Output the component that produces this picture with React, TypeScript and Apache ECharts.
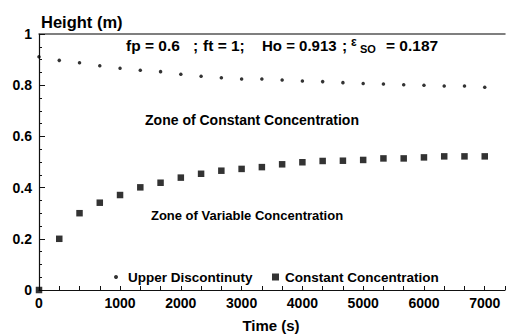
import React, { useEffect, useRef } from "react";
import * as echarts from "echarts";

// Sample times (s) — plotted as evenly spaced categories, as in the original figure
const times = [
  "0", "250", "500", "750", "1000", "1333", "1667", "2000", "2333", "2667", "3000",
  "3333", "3667", "4000", "4333", "4667", "5000", "5333", "5667", "6000", "6333", "6667", "7000",
];
const xTickLabels = ["0", "1000", "2000", "3000", "4000", "5000", "6000", "7000"];

const upperDiscontinuity = [
  0.911, 0.897, 0.888, 0.876, 0.866, 0.858, 0.853, 0.843, 0.835, 0.829, 0.824,
  0.824, 0.82, 0.816, 0.814, 0.81, 0.807, 0.805, 0.802, 0.8, 0.797, 0.797, 0.792,
];
const constantConcentration = [
  0.0, 0.2, 0.3, 0.341, 0.371, 0.401, 0.419, 0.439, 0.454, 0.466, 0.473,
  0.48, 0.491, 0.499, 0.504, 0.505, 0.508, 0.514, 0.514, 0.518, 0.522, 0.522, 0.522,
];

const seriesNames = ["Upper Discontinuty", "Constant Concentration"];
const FONT = "'Liberation Sans', Arial, Helvetica, sans-serif";

// Annotation pieces: text, left edge, font size
const annotation: [string, number, number][] = [
  ["fp = 0.6", 126, 15.5],
  [";", 193, 15.5],
  ["ft = 1;", 203, 15.5],
  ["Ho = 0.913", 262, 15],
  [";", 342, 15.5],
  ["ε", 351, 12],
];

export default function App() {
  const ref = useRef<HTMLDivElement>(null);
  useEffect(() => {
    if (!ref.current) return;
    const chart = echarts.init(ref.current, undefined, { renderer: "svg" });
    const cats = [...times, ""];
    const axisCol = "#111";
    const annText = annotation.map(([t, x, fs]) => ({
      type: "text",
      x,
      y: fs >= 15 ? 45 : 42,
      style: {
        text: t,
        textVerticalAlign: "middle",
        font: `bold ${fs}px ${FONT}`,
        fill: "#000",
      },
    }));
    chart.setOption({
      animation: false,
      backgroundColor: "#fff",
      textStyle: { fontFamily: FONT },
      grid: { left: 39, top: 34, right: -2.5, bottom: 45, containLabel: false },
      xAxis: [
        {
          type: "category",
          data: cats,
          boundaryGap: false,
          position: "bottom",
          axisLine: { show: true, lineStyle: { color: axisCol, width: 1.2 } },
          axisTick: { show: true, inside: true, length: 4, interval: 0, lineStyle: { color: axisCol } },
          axisLabel: {
            interval: 0,
            margin: 6,
            color: "#000",
            fontSize: 14,
            fontWeight: "bold",
            fontFamily: FONT,
            formatter: (v: string) => (xTickLabels.includes(v) ? v : ""),
          },
          splitLine: { show: false },
        },
        {
          type: "category",
          data: cats,
          boundaryGap: false,
          position: "top",
          axisLine: { show: true, lineStyle: { color: "#555", width: 1.5 } },
          axisTick: { show: false },
          axisLabel: { show: false },
          splitLine: { show: false },
        },
      ],
      yAxis: {
        type: "value",
        min: 0,
        max: 1,
        interval: 0.2,
        name: "Height (m)",
        nameLocation: "end",
        nameGap: 4,
        nameTextStyle: {
          align: "left",
          verticalAlign: "bottom",
          fontSize: 16.5,
          fontWeight: "bold",
          color: "#000",
          fontFamily: FONT,
          padding: [0, 0, 0, 2],
        },
        axisLine: { show: true, lineStyle: { color: axisCol, width: 1.2 } },
        axisTick: { show: true, inside: true, length: 6, lineStyle: { color: axisCol } },
        minorTick: { show: true, splitNumber: 4, length: 3, lineStyle: { color: axisCol } },
        axisLabel: {
          margin: 7,
          color: "#000",
          fontSize: 14,
          fontWeight: "bold",
          fontFamily: FONT,
        },
        splitLine: { show: false },
        minorSplitLine: { show: false },
      },
      legend: [
        {
          data: [{ name: seriesNames[0], icon: "circle" }],
          left: 109,
          top: 265,
          itemWidth: 4,
          itemHeight: 4,
          textStyle: { fontSize: 13.5, fontWeight: "bold", color: "#000", fontFamily: FONT, padding: [0, 0, 0, 5] },
        },
        {
          data: [{ name: seriesNames[1], icon: "rect" }],
          left: 267,
          top: 265,
          itemWidth: 7,
          itemHeight: 7,
          textStyle: { fontSize: 13.5, fontWeight: "bold", color: "#000", fontFamily: FONT, padding: [0, 0, 0, 1] },
        },
      ],
      series: [
        {
          name: seriesNames[0],
          type: "scatter",
          symbol: "circle",
          symbolSize: 3.5,
          itemStyle: { color: "#000" },
          data: upperDiscontinuity,
          clip: false,
        },
        {
          name: seriesNames[1],
          type: "scatter",
          symbol: "rect",
          symbolSize: 6.5,
          itemStyle: { color: "#000" },
          data: constantConcentration,
          clip: false,
        },
      ],
      graphic: [
        ...annText,
        {
          type: "text",
          x: 360,
          y: 49,
          style: { text: "SO", textVerticalAlign: "middle", font: `bold 11px ${FONT}`, fill: "#000" },
        },
        {
          type: "text",
          x: 386,
          y: 45,
          style: { text: "= 0.187", textVerticalAlign: "middle", font: `bold 15.5px ${FONT}`, fill: "#000" },
        },
        {
          type: "text",
          x: 252,
          y: 120,
          style: {
            text: "Zone of Constant Concentration",
            textAlign: "center",
            textVerticalAlign: "middle",
            font: `bold 14px ${FONT}`,
            fill: "#000",
          },
        },
        {
          type: "text",
          x: 247,
          y: 215,
          style: {
            text: "Zone of Variable Concentration",
            textAlign: "center",
            textVerticalAlign: "middle",
            font: `bold 13px ${FONT}`,
            fill: "#000",
          },
        },
        {
          type: "text",
          x: 271,
          y: 325,
          style: {
            text: "Time (s)",
            textAlign: "center",
            textVerticalAlign: "middle",
            font: `bold 15px ${FONT}`,
            fill: "#000",
          },
        },
      ],
    });
    return () => chart.dispose();
  }, []);
  return (
    <div
      ref={ref}
      style={{ position: "fixed", left: 0, top: 0, width: 508, height: 335, background: "#fff" }}
    />
  );
}
